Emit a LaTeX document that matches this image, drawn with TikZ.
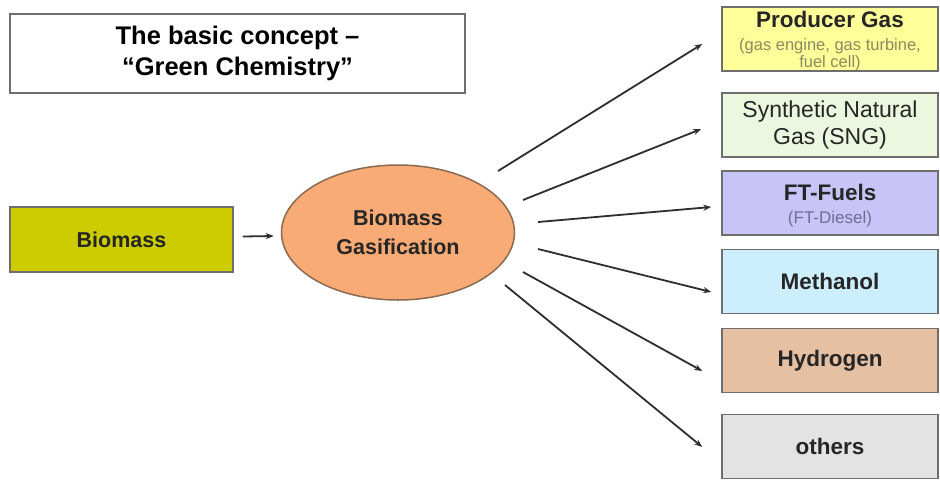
\documentclass[tikz,border=0pt]{standalone}
\usepackage{fontspec}
\setmainfont{Liberation Sans}
\usetikzlibrary{shapes.geometric,arrows.meta,calc}
\definecolor{bordergray}{HTML}{6E6E6E}
\definecolor{txt}{HTML}{262626}
\definecolor{biofill}{HTML}{CCCC00}
\definecolor{ellfill}{HTML}{F8AB74}
\definecolor{ellline}{HTML}{8A6A50}
\definecolor{pgfillc}{HTML}{FFFF99}
\definecolor{sngfill}{HTML}{EBF7DF}
\definecolor{ftfill}{HTML}{C9C4F7}
\definecolor{methfill}{HTML}{CDEFFD}
\definecolor{hydfill}{HTML}{E6C0A2}
\definecolor{othfill}{HTML}{E3E3E3}
\definecolor{subgray}{HTML}{8A8A60}
\definecolor{subpurple}{HTML}{6E6E90}
\definecolor{arrowc}{HTML}{2E2E2E}
\tikzset{
  outbox/.style={draw=bordergray, line width=1.5pt, rectangle, minimum width=216pt, minimum height=64pt, inner sep=0pt, align=center, text=txt},
  conn/.style={draw=arrowc, line width=1.8pt, -{Stealth[length=8pt,width=6pt]}},
  bigtxt/.style={font=\fontsize{22.5}{27}\selectfont\bfseries},
  subtxt/.style={font=\fontsize{16.5}{18}\selectfont, inner sep=0pt, anchor=base},
}
\begin{document}
\begin{tikzpicture}[x=1pt,y=-1pt]
\useasboundingbox (0,0) rectangle (940,480);
% title
\node[draw=bordergray, line width=1.5pt, minimum width=455pt, minimum height=79pt, inner sep=0pt, align=center, font=\fontsize{25.5}{31}\selectfont\bfseries] (title) at (237.5,53.5) {The basic concept –\\“Green Chemistry”};
% biomass
\node[draw=bordergray, line width=1.5pt, fill=biofill, minimum width=223pt, minimum height=65pt, inner sep=0pt, text=txt, font=\fontsize{21.5}{26}\selectfont\bfseries] (bio) at (121.5,239.5) {Biomass};
% gasification
\node[ellipse, draw=ellline, line width=1.5pt, fill=ellfill, minimum width=233pt, minimum height=135pt, inner sep=0pt, align=center, text=txt, font=\fontsize{21.5}{29}\selectfont\bfseries] (gas) at (398,232.5) {Biomass\\Gasification};
% outputs
\node[outbox, fill=pgfillc] (pg) at (830,39) {};
\node[bigtxt, text=txt, inner sep=0pt, anchor=base] (pgt) at (830,27) {Producer Gas};
\node[subtxt, text=subgray] (pgs1) at (830,50) {(gas engine, gas turbine,};
\node[subtxt, text=subgray] (pgs2) at (830,67.5) {fuel cell)};
\node[outbox, fill=sngfill, font=\fontsize{23}{27}\selectfont] (sng) at (830,125) {Synthetic Natural\\Gas (SNG)};
\node[outbox, fill=ftfill] (ft) at (830,203) {};
\node[bigtxt, text=txt, inner sep=0pt, anchor=base] (ftt) at (830,200) {FT-Fuels};
\node[subtxt, font=\fontsize{17}{19}\selectfont, text=subpurple] (fts) at (830,223) {(FT-Diesel)};
\node[outbox, fill=methfill, bigtxt] (meth) at (830,281.5) {Methanol};
\node[outbox, fill=hydfill, bigtxt] (hyd) at (830,360.5) {Hydrogen};
\node[outbox, fill=othfill, bigtxt] (oth) at (830,446.5) {others};
% arrow start points
\coordinate (s1) at (498,171);
\coordinate (s2) at (523,200);
\coordinate (s3) at (538,222);
\coordinate (s4) at (538,249);
\coordinate (s5) at (523,272);
\coordinate (s6) at (505,285);
\draw[conn] ($(bio.east)+(9,-3)$) -- ($(gas.west)+(-7,3.5)$);
\draw[conn] (s1) -- ($(pg.west)+(-19,5)$);
\draw[conn] (s2) -- ($(sng.west)+(-20,4)$);
\draw[conn] (s3) -- ($(ft.west)+(-10,4)$);
\draw[conn] (s4) -- ($(meth.west)+(-10,10.5)$);
\draw[conn] (s5) -- ($(hyd.west)+(-19,10.5)$);
\draw[conn] (s6) -- ($(oth.west)+(-19,0.5)$);
\end{tikzpicture}
\end{document}
